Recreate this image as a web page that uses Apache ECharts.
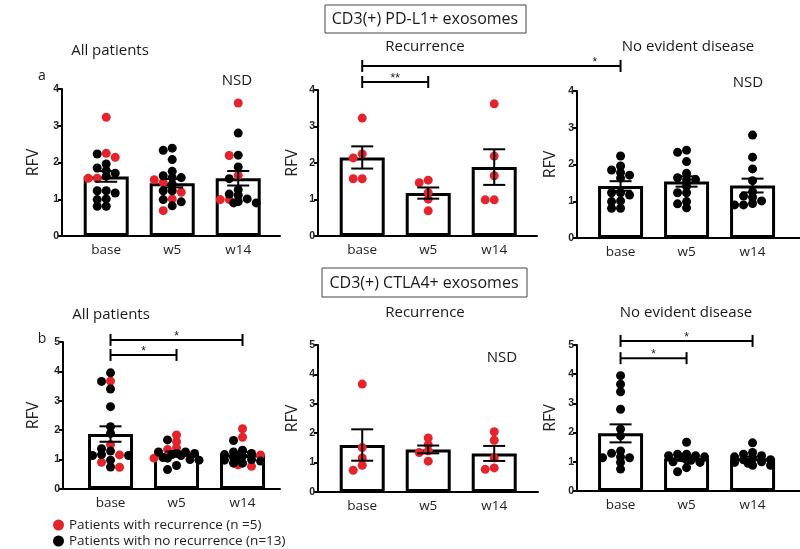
<!DOCTYPE html>
<html>
<head>
    <meta charset="utf-8" />
    <script src="https://cdn.jsdelivr.net/npm/echarts@6/dist/echarts.min.js"></script>
    <style>
        html, body { margin: 0; background: #fff; }
        #main { width: 800px; height: 549px; }
    </style>
</head>
<body>
<div id="main"></div>
<script>
var cats = ['base', 'w5', 'w14'];
var recName = 'Patients with recurrence (n =5)';
var nedName = 'Patients with no recurrence (n=13)';

// CD3(+) PD-L1+ exosomes, RFV per patient (base, w5, w14)
var pdl1Rec = [
    [3.23, 2.25, 2.14, 1.57, 1.57],
    [1.53, 1.46, 1.19, 1.01, 0.69],
    [3.62, 2.19, 1.65, 0.99, 0.99]
];
var pdl1Ned = [
    [2.23, 1.96, 1.85, 1.78, 1.71, 1.63, 1.23, 1.23, 1.17, 1.01, 0.99, 0.81, 0.81],
    [2.39, 2.33, 2.08, 1.76, 1.64, 1.59, 1.59, 1.41, 1.23, 1.23, 0.99, 0.93, 0.82],
    [2.80, 2.20, 1.88, 1.56, 1.26, 1.14, 1.11, 1.01, 0.94, 0.90, 0.90]
];
// CD3(+) CTLA4+ exosomes
var ctla4Rec = [
    [3.67, 1.51, 1.16, 0.91, 0.74],
    [1.84, 1.61, 1.40, 1.34, 1.05],
    [2.05, 1.76, 1.16, 0.82, 0.77]
];
var ctla4Ned = [
    [3.95, 3.66, 3.40, 2.80, 2.12, 1.89, 1.37, 1.29, 1.17, 1.14, 1.14, 0.98, 0.75],
    [1.67, 1.26, 1.26, 1.21, 1.21, 1.17, 1.14, 1.07, 1.05, 1.00, 0.98, 0.80, 0.66],
    [1.65, 1.32, 1.26, 1.21, 1.17, 1.12, 1.07, 1.07, 1.00, 0.98, 0.95, 0.88, 0.88]
];

// significance brackets: from [grid, category] to [grid, category] at height y (of first grid)
var brackets = [
    { g1: 1, c1: 0, g2: 1, c2: 1, y: 4.22, label: '**', at: 0.5 },
    { g1: 1, c1: 0, g2: 2, c2: 0, y: 4.66, label: '*', at: 0.9 },
    { g1: 3, c1: 0, g2: 3, c2: 1, y: 4.56, label: '*', at: 0.5 },
    { g1: 3, c1: 0, g2: 3, c2: 2, y: 5.07, label: '*', at: 0.5 },
    { g1: 5, c1: 0, g2: 5, c2: 1, y: 4.55, label: '*', at: 0.5 },
    { g1: 5, c1: 0, g2: 5, c2: 2, y: 5.14, label: '*', at: 0.5 }
];

var panels = [
    { left: 62, top: 89, width: 218, height: 147, xmin: -0.67, ymax: 4, rec: pdl1Rec, ned: pdl1Ned, nameGap: 21 },
    { left: 318, top: 90, width: 219, height: 146, xmin: -0.67, ymax: 4, rec: pdl1Rec, ned: null, nameGap: 18 },
    { left: 577, top: 91, width: 223, height: 147, xmin: -0.66, ymax: 4, rec: null, ned: pdl1Ned, nameGap: 19 },
    { left: 63, top: 342, width: 217, height: 147, xmin: -0.72, ymax: 5, rec: ctla4Rec, ned: ctla4Ned, nameGap: 22 },
    { left: 318, top: 345, width: 220, height: 147, xmin: -0.67, ymax: 5, rec: ctla4Rec, ned: null, nameGap: 18 },
    { left: 577, top: 345, width: 223, height: 146, xmin: -0.66, ymax: 5, rec: null, ned: ctla4Ned, nameGap: 19 }
];

var RED = '#e5232b';
var BLACK = '#000';
var txtFont = '"Open Sans", "Noto Sans", sans-serif';

function mean(a) {
    var s = 0;
    a.forEach(function (v) { s += v; });
    return s / a.length;
}

function sem(a) {
    var m = mean(a), s = 0;
    a.forEach(function (v) { s += (v - m) * (v - m); });
    return Math.sqrt(s / (a.length - 1)) / Math.sqrt(a.length);
}

// spread dots of one column sideways, row by row, like prism does (px offsets)
function swarm(points, pxPerUnit) {
    var placed = [];
    points.slice().sort(function (a, b) { return b.v - a.v; }).forEach(function (p) {
        var y = p.v * pxPerUnit;
        var best = null, bestScore = -1;
        for (var k = 0; k < 11; k++) {
            var dx = (k % 2 ? -1 : 1) * Math.ceil(k / 2) * 4.5;
            var score = 99;
            placed.forEach(function (q) {
                if (Math.abs(q.y - y) < 5.5) score = Math.min(score, Math.abs(q.dx - dx));
            });
            if (score >= 8.5) { best = dx; break; }
            if (score > bestScore) { bestScore = score; best = dx; }
        }
        p.dx = best;
        p.y = y;
        placed.push(p);
    });
}

var grids = [], xAxes = [], yAxes = [], series = [];

panels.forEach(function (p, i) {
    grids.push({ left: p.left, top: p.top, width: p.width, height: p.height });
    xAxes.push({
        gridIndex: i, type: 'value', min: p.xmin, max: p.xmin + p.width / 66,
        axisLine: { show: true, lineStyle: { color: '#000', width: 2 } },
        axisTick: { show: false },
        splitLine: { show: false },
        axisLabel: {
            customValues: [0, 1, 2],
            formatter: function (v) { return cats[v]; },
            fontSize: 13.5, color: '#222', margin: 7, fontFamily: txtFont
        }
    });
    yAxes.push({
        gridIndex: i, type: 'value', min: 0, max: p.ymax, interval: 1,
        name: 'RFV', nameLocation: 'middle', nameGap: p.nameGap,
        nameTextStyle: { fontSize: 16, color: '#222', fontFamily: txtFont },
        axisLine: { show: true, onZero: false, lineStyle: { color: '#000', width: 2 } },
        axisTick: { show: true, length: 4, lineStyle: { color: '#000', width: 2 } },
        splitLine: { show: false },
        axisLabel: { fontSize: 10.5, fontWeight: 'bold', color: '#222', margin: 3, fontFamily: 'Liberation Sans, Arial' }
    });

    var barData = [], errData = [], redPts = [], blackPts = [];
    var pxPerUnit = p.height / p.ymax;
    for (var c = 0; c < 3; c++) {
        var all = [], pts = [];
        if (p.rec) p.rec[c].forEach(function (v) { all.push(v); pts.push({ v: v, red: true }); });
        if (p.ned) p.ned[c].forEach(function (v) { all.push(v); pts.push({ v: v, red: false }); });
        barData.push([c, mean(all)]);
        errData.push([c, mean(all), sem(all)]);
        swarm(pts, pxPerUnit);
        pts.forEach(function (pt) {
            var item = { value: [c, pt.v], symbolOffset: [pt.dx, 0] };
            if (pt.red) redPts.push(item); else blackPts.push(item);
        });
    }

    series.push({
        type: 'bar', xAxisIndex: i, yAxisIndex: i, barWidth: 45, z: 1,
        itemStyle: { color: '#fff', borderColor: '#000', borderWidth: 3 },
        silent: true, data: barData
    });
    if (redPts.length) {
        series.push({
            type: 'scatter', name: recName, xAxisIndex: i, yAxisIndex: i, z: 2,
            symbolSize: 9, itemStyle: { color: RED, opacity: 1 }, data: redPts
        });
    }
    if (blackPts.length) {
        series.push({
            type: 'scatter', name: nedName, xAxisIndex: i, yAxisIndex: i, z: 2,
            symbolSize: 9, itemStyle: { color: BLACK, opacity: 1 }, data: blackPts
        });
    }
    series.push({
        type: 'custom', xAxisIndex: i, yAxisIndex: i, z: 3, silent: true,
        renderItem: function (params, api) {
            var x = api.value(0), m = api.value(1), s = api.value(2);
            var hi = api.coord([x, m + s]), lo = api.coord([x, m - s]);
            var st = { stroke: '#000', lineWidth: 2 };
            return {
                type: 'group', children: [
                    { type: 'line', shape: { x1: hi[0], y1: hi[1], x2: lo[0], y2: lo[1] }, style: st },
                    { type: 'line', shape: { x1: hi[0] - 11, y1: hi[1], x2: hi[0] + 11, y2: hi[1] }, style: st },
                    { type: 'line', shape: { x1: lo[0] - 11, y1: lo[1], x2: lo[0] + 11, y2: lo[1] }, style: st }
                ]
            };
        },
        data: errData
    });
});

var myChart = echarts.init(document.getElementById('main'));
myChart.setOption({
    animation: false,
    grid: grids,
    xAxis: xAxes,
    yAxis: yAxes,
    legend: {
        orient: 'vertical', left: 53, top: 518, height: 40, padding: 0,
        itemWidth: 11, itemHeight: 11, itemGap: 2,
        icon: 'circle', selectedMode: false,
        textStyle: { fontSize: 13.5, lineHeight: 14, color: '#222', fontFamily: txtFont },
        data: [recName, nedName]
    },
    series: series
});

// texts and brackets
function txt(x, y, s, size, extra) {
    var st = { text: s, x: x, y: y, align: 'center', verticalAlign: 'middle', fontSize: size, fill: '#1a1a1a', fontFamily: txtFont };
    for (var k in extra) st[k] = extra[k];
    return { type: 'text', z: 10, style: st };
}

var graphics = [
    { type: 'rect', shape: { x: 325, y: 5, width: 201, height: 28 }, style: { fill: '#fff', stroke: '#444', lineWidth: 1 } },
    txt(425, 19, 'CD3(+) PD-L1+ exosomes', 16),
    { type: 'rect', shape: { x: 322, y: 268, width: 205, height: 29 }, style: { fill: '#fff', stroke: '#444', lineWidth: 1 } },
    txt(424, 283, 'CD3(+) CTLA4+ exosomes', 16),
    txt(110, 51, 'All patients', 15),
    txt(425, 47, 'Recurrence', 15),
    txt(688, 47, 'No evident disease', 15),
    txt(111, 315, 'All patients', 15),
    txt(425, 313, 'Recurrence', 15),
    txt(686, 313, 'No evident disease', 15),
    txt(42, 76, 'a', 14),
    txt(42, 339, 'b', 14),
    txt(237, 81, 'NSD', 15),
    txt(748, 83, 'NSD', 15),
    txt(502, 358, 'NSD', 15)
];

brackets.forEach(function (b) {
    var p1 = myChart.convertToPixel({ gridIndex: b.g1 }, [b.c1, b.y]);
    var p2 = myChart.convertToPixel({ gridIndex: b.g2 }, [b.c2, 0]);
    var y = p1[1], st = { stroke: '#000', lineWidth: 2 };
    graphics.push({ type: 'line', shape: { x1: p1[0], y1: y, x2: p2[0], y2: y }, style: st });
    graphics.push({ type: 'line', shape: { x1: p1[0], y1: y - 6, x2: p1[0], y2: y + 6 }, style: st });
    graphics.push({ type: 'line', shape: { x1: p2[0], y1: y - 6, x2: p2[0], y2: y + 6 }, style: st });
    graphics.push(txt(p1[0] + (p2[0] - p1[0]) * b.at, y - 3, b.label, 12, { fontFamily: 'Liberation Sans, Arial' }));
});

myChart.setOption({ graphic: graphics });
</script>
</body>
</html>
